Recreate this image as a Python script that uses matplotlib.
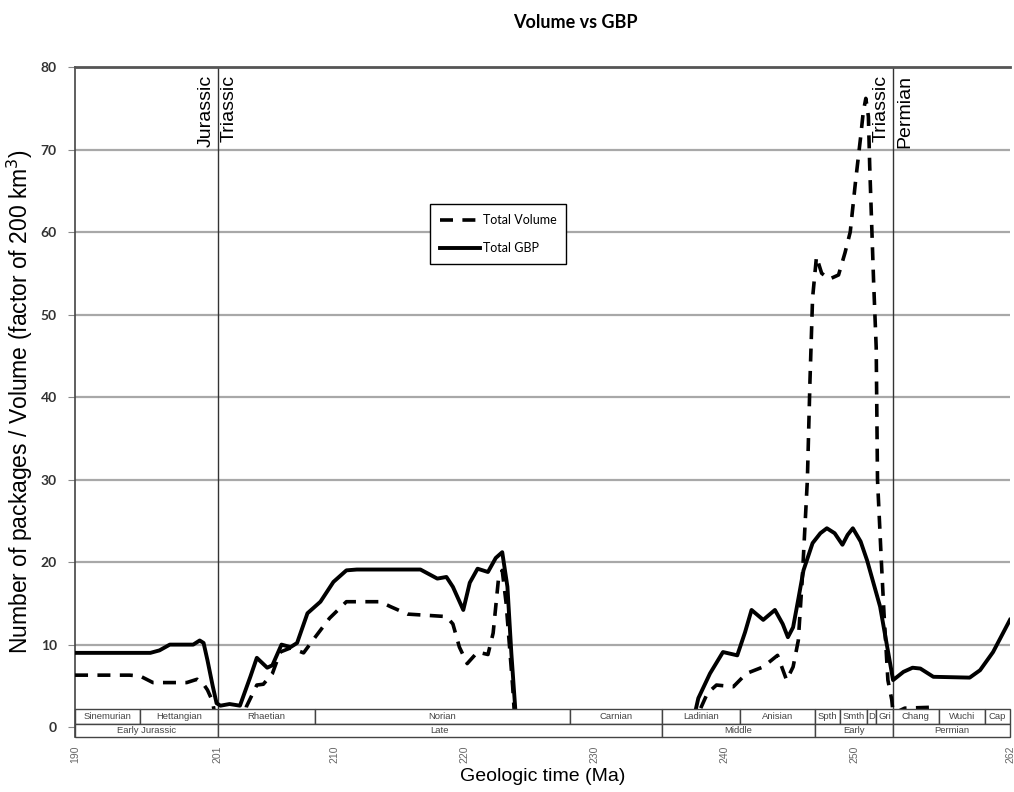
import numpy as np
import matplotlib
matplotlib.use('Agg')
import matplotlib.pyplot as plt
from matplotlib.patches import Rectangle

# Total volume (dashed), age in Ma
vol_age = [190.0, 194.2, 195.0, 196.0, 198.6, 199.4, 199.9, 200.2, 200.6, 200.9,
           202.9, 203.2, 204.0, 204.5, 205.2, 205.8, 206.6, 207.6, 208.3, 209.6,
           210.9, 213.5, 214.3, 215.6, 218.6, 219.1, 219.6, 220.2, 221.0, 221.8,
           222.2, 222.6, 222.9, 223.2, 223.7, 223.9, 237.7, 238.1, 238.7, 239.4,
           240.7, 241.7, 243.0, 244.1, 244.8, 245.3, 245.7, 246.0, 246.2, 246.4,
           246.6, 246.8, 247.1, 247.5, 248.1, 248.8, 249.3, 249.7, 250.1, 250.5,
           250.7, 250.9, 251.1, 251.2, 251.5, 251.7, 251.8, 252.1, 252.3, 252.6,
           252.9, 253.1, 253.5, 253.9, 255.8, 256.2, 262.0]
vol_val = [6.3, 6.3, 6.2, 5.4, 5.4, 5.8, 5.2, 4.5, 3.1, 0.0,
           0.0, 2.5, 5.1, 5.2, 6.5, 9.1, 9.6, 9.0, 10.5, 13.2,
           15.2, 15.2, 14.6, 13.7, 13.4, 12.5, 9.7, 7.7, 9.1, 8.8,
           11.4, 17.8, 19.0, 15.0, 5.0, 0.0, 0.0, 2.0, 4.1, 5.1,
           4.9, 6.5, 7.3, 8.7, 5.7, 7.3, 10.5, 17.8, 23.9, 30.0,
           42.0, 52.0, 57.0, 55.0, 54.3, 54.8, 57.5, 60.0, 66.0, 71.5,
           74.5, 76.2, 74.0, 68.0, 54.0, 46.0, 30.0, 20.0, 13.8, 5.7,
           3.3, 0.0, 2.0, 2.3, 2.4, 0.0, 0.0]

# Total GBP (solid)
gbp_age = [190.0, 195.8, 196.5, 197.3, 199.1, 199.6, 199.9, 200.2, 200.6, 200.9,
           201.2, 201.9, 202.7, 203.5, 204.0, 204.4, 204.8, 205.2, 205.9, 206.6,
           207.1, 207.9, 208.9, 209.9, 210.9, 211.7, 216.6, 217.9, 218.6, 219.1,
           219.9, 220.4, 221.0, 221.8, 222.4, 222.9, 223.3, 223.6, 223.9, 224.0,
           237.5, 238.0, 238.9, 239.9, 241.0, 241.6, 242.1, 243.0, 243.9, 244.5,
           244.9, 245.3, 245.7, 246.1, 246.8, 247.4, 247.9, 248.5, 249.1, 249.5,
           249.9, 250.5, 251.0, 252.0, 253.0, 253.8, 254.5, 255.1, 256.1, 258.9,
           259.7, 260.7, 262.0]
gbp_val = [9.0, 9.0, 9.3, 10.0, 10.0, 10.5, 10.2, 8.1, 5.0, 2.9,
           2.6, 2.8, 2.6, 6.1, 8.4, 7.8, 7.2, 7.5, 10.0, 9.7,
           10.2, 13.8, 15.2, 17.6, 19.0, 19.1, 19.1, 18.0, 18.2, 17.0,
           14.2, 17.5, 19.2, 18.8, 20.5, 21.2, 17.0, 9.0, 2.3, 0.0,
           0.0, 3.5, 6.5, 9.1, 8.7, 11.5, 14.2, 13.0, 14.2, 12.5,
           10.9, 12.1, 15.5, 19.0, 22.3, 23.5, 24.1, 23.5, 22.1, 23.3,
           24.1, 22.5, 20.2, 14.6, 5.7, 6.7, 7.2, 7.1, 6.1, 6.0,
           6.9, 9.1, 13.0]

# timescale strip
stage_edges = [190.0, 195.0, 201.0, 208.5, 228.1, 235.2, 241.2, 247.0, 248.9,
               251.0, 251.7, 253.0, 256.5, 260.1, 262.0]
stage_names = ['Sinemurian', 'Hettangian', 'Rhaetian', 'Norian', 'Carnian',
               'Ladinian', 'Anisian', 'Spth', 'Smth', 'D', 'Gri', 'Chang',
               'Wuchi', 'Cap']
epoch_edges = [190.0, 201.0, 235.2, 247.0, 253.0, 262.0]
epoch_names = ['Early Jurassic', 'Late', 'Middle', 'Early', 'Permian']

boundaries = [201.0, 253.0]
boundary_labels = [('Jurassic', 'Triassic'), ('Triassic', 'Permian')]

xticks = [190, 201, 210, 220, 230, 240, 250, 262]
yticks = [0, 10, 20, 30, 40, 50, 60, 70, 80]

fig = plt.figure(figsize=(10.14, 7.92), dpi=100)
ax = fig.add_axes([0.074, 0.0694, 0.922, 0.846])

ax.set_xlim(190, 262)
ax.set_ylim(-1.2, 80)

for y in yticks[1:-1]:
    ax.axhline(y, color='#a8a8a8', lw=1.6, zorder=1)

ax.plot(vol_age, vol_val, color='black', lw=2.6, dashes=(3.6, 2.6),
        dash_joinstyle='round', label='Total Volume', zorder=3)
ax.plot(gbp_age, gbp_val, color='black', lw=2.8, solid_joinstyle='round',
        label='Total GBP', zorder=3)

for b, (lft, rgt) in zip(boundaries, boundary_labels):
    ax.axvline(b, color='#333333', lw=1.0, zorder=2)
    ax.text(b - 0.25, 79, lft, rotation=90, ha='right', va='top',
            fontsize=14, family='Liberation Sans')
    ax.text(b + 0.25, 79, rgt, rotation=90, ha='left', va='top',
            fontsize=14, family='Liberation Sans')

# timescale table
row_top, row_mid, row_bot = 2.2, 0.36, -1.2
for edges, names, y0, y1 in [(stage_edges, stage_names, row_mid, row_top),
                              (epoch_edges, epoch_names, row_bot, row_mid)]:
    for i, name in enumerate(names):
        ax.add_patch(Rectangle((edges[i], y0), edges[i + 1] - edges[i], y1 - y0,
                               facecolor='white', edgecolor='#444444', lw=1.0,
                               zorder=5, clip_on=False))
        ax.text((edges[i] + edges[i + 1]) / 2, (y0 + y1) / 2, name,
                ha='center', va='center', fontsize=6.8, color='#444444',
                family='Liberation Sans', zorder=6)

ax.set_xticks(xticks)
ax.set_xticklabels([str(t) for t in xticks], rotation=90, fontsize=7.5,
                   color='#666666', family='Liberation Sans')
ax.set_yticks(yticks)
ax.set_yticklabels([str(t) for t in yticks], fontsize=10, color='#333333',
                   family='Lato', fontweight='bold')
ax.tick_params(axis='x', length=0, pad=6)
ax.tick_params(axis='y', length=5, color='#888888', pad=8)

for s in ['right', 'bottom']:
    ax.spines[s].set_visible(False)
ax.spines['left'].set_color('#444444')
ax.spines['left'].set_linewidth(1.2)
ax.spines['top'].set_color('#555555')
ax.spines['top'].set_linewidth(2.0)

ax.set_xlabel('Geologic time (Ma)', fontsize=14, family='Liberation Sans',
              labelpad=4)
ax.set_ylabel('Number of packages / Volume (factor of 200 km$^3$)',
              fontsize=16.5, family='Liberation Sans', labelpad=4)

leg = ax.legend(loc='upper left', bbox_to_anchor=(0.373, 0.805), fancybox=False,
                framealpha=1, edgecolor='black', handlelength=3.2,
                labelspacing=1.3, borderpad=0.8, handletextpad=0.2,
                prop={'family': 'Lato', 'size': 9})
leg.get_frame().set_linewidth(1.0)
leg.set_zorder(7)

fig.text(0.567, 0.972, 'Volume vs GBP', ha='center', va='center',
         fontsize=13, family='Lato', fontweight='bold')

plt.savefig('out.png', dpi=100)
